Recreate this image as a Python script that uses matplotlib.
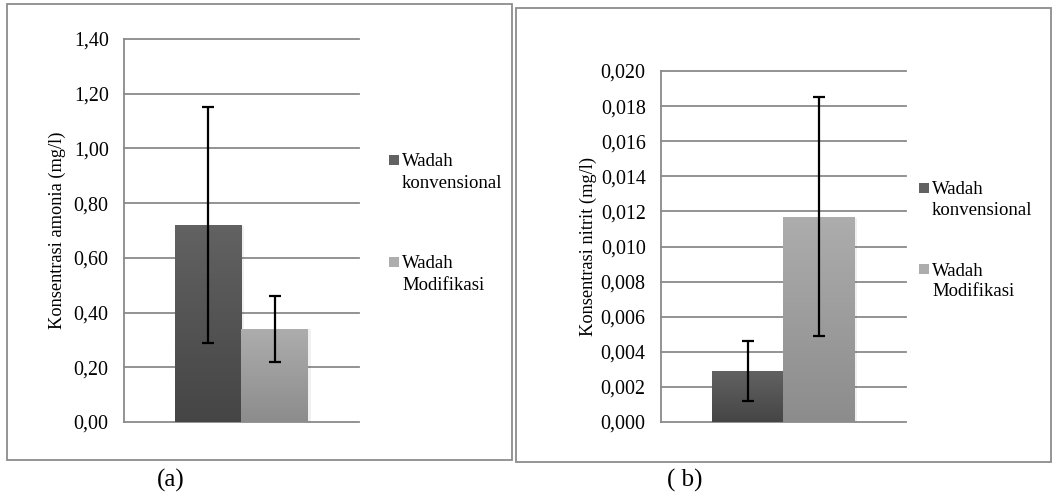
import numpy as np
import matplotlib
matplotlib.use("Agg")
import matplotlib.pyplot as plt
from matplotlib.patches import Rectangle

plt.rcParams['font.family'] = ['Liberation Serif', 'DejaVu Serif']

# DATA
groups = ["Wadah\nkonvensional", "Wadah\nModifikasi"]
amonia_mean = [0.72, 0.34]
amonia_sd = [0.43, 0.12]
nitrit_mean = [0.0029, 0.0117]
nitrit_sd = [0.0017, 0.0068]
amonia_ticks = [0.0, 0.2, 0.4, 0.6, 0.8, 1.0, 1.2, 1.4]
amonia_ticklabels = ["0,00", "0,20", "0,40", "0,60", "0,80", "1,00", "1,20", "1,40"]
nitrit_ticks = [0.0, 0.002, 0.004, 0.006, 0.008, 0.010, 0.012, 0.014, 0.016, 0.018, 0.020]
nitrit_ticklabels = ["0,000", "0,002", "0,004", "0,006", "0,008", "0,010",
                     "0,012", "0,014", "0,016", "0,018", "0,020"]

# gradient colours (top, bottom) for each series
grads = [("#626262", "#454545"), ("#adadad", "#8c8c8c")]
grid_col = "#8a8a8a"

W, H = 1054, 501
fig = plt.figure(figsize=(W / 100, H / 100), dpi=100)


def fx(x):
    return x / W


def fy(y):
    return 1 - y / H


def px_axes(left, top, right, bottom):
    return fig.add_axes([left / W, (H - bottom) / H, (right - left) / W, (bottom - top) / H])


def grad_bar(ax, x0, w, h, c_top, c_bot):
    rect = Rectangle((x0, 0), w, h, facecolor="none", edgecolor="none")
    ax.add_patch(rect)
    g = np.linspace(0, 1, 256).reshape(-1, 1)
    cmap = matplotlib.colors.LinearSegmentedColormap.from_list("g", [c_bot, c_top])
    im = ax.imshow(g, cmap=cmap, origin="lower", aspect="auto",
                   extent=(x0, x0 + w, 0, h), zorder=2)
    im.set_clip_path(rect)


def panel(ax, means, sds, ticks, ticklabels, bw):
    xs = [-bw / 2, bw / 2]
    for i in range(2):
        # faint shadow to the right of each bar
        ax.add_patch(Rectangle((xs[i] - bw / 2 + 0.01, 0), bw, means[i] * 0.995,
                               facecolor="black", alpha=0.06, edgecolor="none", zorder=1.5))
        grad_bar(ax, xs[i] - bw / 2, bw, means[i], *grads[i])
    ax.errorbar(xs, means, yerr=sds, fmt="none", ecolor="black", elinewidth=1.6,
                capsize=4.3, capthick=1.6, zorder=4)
    ax.set_xlim(-0.5, 0.5)
    ax.set_ylim(ticks[0], ticks[-1])
    ax.set_yticks(ticks)
    ax.set_yticklabels(ticklabels, fontsize=14.4)
    ax.set_xticks([])
    for t in ticks:
        ax.axhline(t, color=grid_col, lw=1.3, zorder=1, clip_on=False)
    for s in ["top", "right", "bottom"]:
        ax.spines[s].set_visible(False)
    ax.spines["left"].set_color(grid_col)
    ax.spines["left"].set_linewidth(1.3)
    ax.tick_params(axis="y", length=0, pad=11)


ax1 = px_axes(124, 39, 359, 422)
panel(ax1, amonia_mean, amonia_sd, amonia_ticks, amonia_ticklabels, 0.285)
ax2 = px_axes(661, 71, 906, 422)
panel(ax2, nitrit_mean, nitrit_sd, nitrit_ticks, nitrit_ticklabels, 0.29)

# y labels
fig.text(fx(57.5), fy(230), "Konsentrasi amonia (mg/l)", rotation=90,
         ha="center", va="center", fontsize=13.2)
fig.text(fx(588), fy(246), "Konsentrasi nitrit (mg/l)", rotation=90,
         ha="center", va="center", fontsize=13.2)

# legends: square marker beside the first line of each label
legend_pos = [(389, [160, 262]), (919, [188, 269])]
for lx, ys in legend_pos:
    for i, yc in enumerate(ys):
        fig.add_artist(Rectangle((fx(lx), fy(yc + 5)), 10 / W, 10 / H,
                                 transform=fig.transFigure, facecolor=grads[i][0],
                                 edgecolor="none"))
        for j, line in enumerate(groups[i].split("\n")):
            fig.text(fx(lx + 13), fy(yc + 21 * j), line, ha="left",
                     va="center_baseline", fontsize=13.5)

# panel frames
for l, t, r, b in [(7, 4, 512, 460), (516, 8, 1051, 462)]:
    fig.add_artist(Rectangle((fx(l), fy(b)), (r - l) / W, (b - t) / H,
                             transform=fig.transFigure, fill=False,
                             edgecolor="#8c8c8c", lw=1.3))

fig.text(fx(171), fy(480), "(a)", ha="center", va="center", fontsize=18)
fig.text(fx(685), fy(480), "( b)", ha="center", va="center", fontsize=18)

fig.savefig("out.png", dpi=100)
